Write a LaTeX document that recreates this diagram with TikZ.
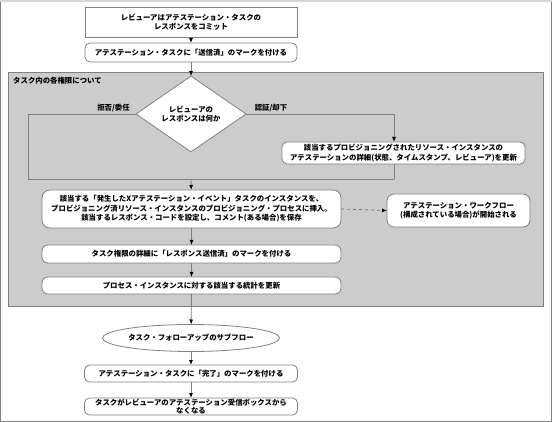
\documentclass[tikz,border=0pt]{standalone}
\usepackage{fontspec}
\setmainfont{Noto Sans CJK JP}
\usetikzlibrary{shapes.geometric}
\usetikzlibrary{calc}
\usetikzlibrary{arrows.meta}
\definecolor{linegray}{HTML}{808080}
\definecolor{areagray}{HTML}{CCCCCC}
\tikzset{
    box/.style={draw=linegray,line width=0.8pt,fill=white,inner sep=0pt,outer sep=0pt,
        align=center,font=\fontsize{7.4}{9.5}\selectfont\bfseries},
    rbox/.style={box,rounded corners=5pt},
    flow/.style={draw=linegray,line width=0.9pt,-{Latex[black,length=5pt,width=4pt]}},
    wire/.style={draw=linegray,line width=0.9pt},
    lbl/.style={inner sep=0pt,font=\fontsize{7.4}{9}\selectfont\bfseries}
}
\begin{document}
\begin{tikzpicture}[x=1pt,y=-1pt]
                \useasboundingbox (0,0) rectangle (552,422);
                \draw[linegray,line width=1pt] (0.5,0.5) rectangle (551.5,421.5);
                \draw[areagray!80!white,line width=2pt] (0,1) -- (552,1);

                \draw[draw=linegray,fill=areagray,line width=0.9pt] (8,72) rectangle (543,306);
                \node[lbl,anchor=west] (area) at (13,81) {タスク内の各権限について};

                \node[box,minimum width=212pt,minimum height=30pt] (commit) at (191,22)
                    {レビューアはアテステーション・タスクの\\レスポンスをコミット};
                \node[rbox,minimum width=212pt,minimum height=19pt] (sent) at (191,52.5)
                    {アテステーション・タスクに「送信済」のマークを付ける};
                \node[box,shape=diamond,minimum width=110pt,minimum height=62pt] (ask) at (191,114)
                    {レビューアの\\レスポンスは何か};
                \node[rbox,minimum width=243pt,minimum height=22pt] (update) at (403.5,153)
                    {該当するプロビジョニングされたリソース・インスタンスの\\アテステーションの詳細(状態、タイムスタンプ、レビューア)を更新};
                \node[rbox,rounded corners=8pt,minimum width=299pt,minimum height=38pt] (insert) at (191.5,209)
                    {該当する「発生したXアテステーション・イベント」タスクのインスタンスを、\\プロビジョニング済リソース・インスタンスのプロビジョニング・プロセスに挿入。\\該当するレスポンス・コードを設定し、コメント(ある場合)を保存};
                \node[rbox,rounded corners=7pt,minimum width=143pt,minimum height=33pt] (workflow) at (458.5,210.5)
                    {アテステーション・ワークフロー\\(構成されている場合)が開始される};
                \node[rbox,rounded corners=6pt,minimum width=299pt,minimum height=18pt] (mark) at (191.5,254)
                    {タスク権限の詳細に「レスポンス送信済」のマークを付ける};
                \node[rbox,rounded corners=6pt,minimum width=299pt,minimum height=17pt] (stats) at (191.5,285.5)
                    {プロセス・インスタンスに対する該当する統計を更新};
                \node[box,shape=ellipse,minimum width=138pt,minimum height=27pt] (follow) at (191,338)
                    {タスク・フォローアップのサブフロー};
                \node[rbox,minimum width=213pt,minimum height=17pt] (done) at (191,373.5)
                    {アテステーション・タスクに「完了」のマークを付ける};
                \node[rbox,minimum width=213pt,minimum height=17pt,font=\fontsize{7.4}{7.6}\selectfont\bfseries] (gone) at (191,406.5)
                    {タスクがレビューアのアテステーション受信ボックスから\\なくなる};

                \coordinate (L1) at (28,114);
                \coordinate (L2) at (28,179);
                \coordinate (R1) at (394,114);
                \coordinate (R2) at (394,142);
                \coordinate (R3) at (394,164);
                \coordinate (J) at (394,179);
                \coordinate (M) at (191,179);

                \draw[flow] (commit) -- (sent);
                \draw[flow] (sent) -- (ask);
                \draw[wire] (ask.west) -- (L1) -- (L2) -- (J);
                \draw[flow] (ask.east) -- (R1) -- (R2);
                \draw[wire] (R3) -- (J);
                \draw[flow] (M) -- (insert);
                \draw[flow,dashed] (insert.east) -- (workflow.west);
                \draw[flow] (insert) -- (mark);
                \draw[flow] (mark) -- (stats);
                \draw[flow] (stats) -- (follow);
                \draw[flow] (follow) -- (done);
                \draw[flow] (done) -- (gone);

                \node[lbl] (reject) at (113.5,108) {拒否/委任};
                \node[lbl] (accept) at (271,108) {認証/却下};
            \end{tikzpicture}
\end{document}
